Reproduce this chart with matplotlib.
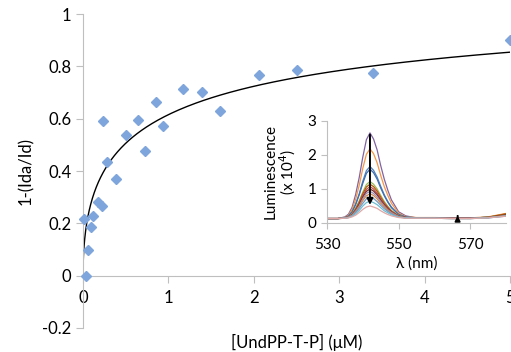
import matplotlib
matplotlib.use("Agg")
import matplotlib.pyplot as plt
import numpy as np

plt.rcParams['font.family'] = ['Lato', 'DejaVu Sans']

# titration points
conc = [0.01, 0.03, 0.06, 0.09, 0.12, 0.17, 0.22, 0.24, 0.28, 0.39, 0.50,
        0.64, 0.72, 0.86, 0.94, 1.17, 1.39, 1.60, 2.06, 2.51, 3.40, 5.00]
quench = [0.218, 0.0, 0.098, 0.186, 0.227, 0.282, 0.265, 0.59, 0.436, 0.37, 0.537,
          0.594, 0.477, 0.663, 0.571, 0.713, 0.701, 0.631, 0.766, 0.785, 0.775, 0.90]

# fitted binding curve parameters (Hill)
fit_bmax, fit_k, fit_n = 1.2, 0.908, 0.53

# inset emission spectra (x 10^4)
wl = [530, 533, 535, 536, 537, 538, 539, 540, 541, 542, 543, 544, 545, 546, 547,
      548, 550, 552, 555, 560, 565, 570, 575, 580]
spectra = [
    [0.13, 0.13, 0.18, 0.26, 0.46, 0.84, 1.34, 1.94, 2.45, 2.65, 2.47, 2.15, 1.69, 1.29, 0.96, 0.68, 0.33, 0.21, 0.15, 0.15, 0.14, 0.14, 0.17, 0.24],
    [0.13, 0.13, 0.17, 0.23, 0.40, 0.70, 1.11, 1.61, 2.02, 2.18, 2.04, 1.77, 1.40, 1.07, 0.81, 0.58, 0.29, 0.19, 0.16, 0.16, 0.15, 0.15, 0.18, 0.28],
    [0.13, 0.13, 0.16, 0.21, 0.33, 0.56, 0.86, 1.23, 1.54, 1.66, 1.55, 1.35, 1.08, 0.83, 0.63, 0.47, 0.25, 0.18, 0.15, 0.15, 0.14, 0.14, 0.17, 0.25],
    [0.13, 0.13, 0.16, 0.20, 0.32, 0.54, 0.83, 1.17, 1.46, 1.58, 1.48, 1.29, 1.03, 0.80, 0.61, 0.45, 0.25, 0.17, 0.15, 0.15, 0.14, 0.14, 0.17, 0.23],
    [0.13, 0.13, 0.15, 0.18, 0.27, 0.44, 0.65, 0.91, 1.13, 1.22, 1.14, 1.00, 0.81, 0.63, 0.49, 0.37, 0.22, 0.16, 0.15, 0.15, 0.14, 0.14, 0.17, 0.26],
    [0.13, 0.13, 0.15, 0.18, 0.26, 0.41, 0.61, 0.86, 1.06, 1.14, 1.07, 0.94, 0.76, 0.59, 0.46, 0.35, 0.21, 0.16, 0.15, 0.15, 0.14, 0.14, 0.17, 0.27],
    [0.13, 0.13, 0.15, 0.18, 0.25, 0.39, 0.58, 0.81, 0.99, 1.07, 1.00, 0.88, 0.71, 0.56, 0.44, 0.34, 0.21, 0.16, 0.15, 0.15, 0.14, 0.14, 0.16, 0.22],
    [0.13, 0.13, 0.15, 0.17, 0.24, 0.37, 0.55, 0.76, 0.93, 1.00, 0.94, 0.83, 0.67, 0.53, 0.42, 0.32, 0.20, 0.16, 0.15, 0.15, 0.14, 0.14, 0.16, 0.24],
    [0.13, 0.13, 0.15, 0.17, 0.23, 0.35, 0.51, 0.71, 0.87, 0.93, 0.87, 0.77, 0.63, 0.50, 0.39, 0.31, 0.19, 0.15, 0.15, 0.14, 0.14, 0.14, 0.16, 0.21],
    [0.13, 0.13, 0.14, 0.17, 0.22, 0.33, 0.48, 0.66, 0.80, 0.86, 0.81, 0.71, 0.58, 0.47, 0.37, 0.29, 0.19, 0.15, 0.14, 0.14, 0.13, 0.13, 0.16, 0.22],
    [0.13, 0.13, 0.14, 0.16, 0.21, 0.31, 0.43, 0.58, 0.71, 0.76, 0.72, 0.63, 0.52, 0.42, 0.34, 0.27, 0.18, 0.15, 0.14, 0.14, 0.13, 0.13, 0.15, 0.20],
    [0.13, 0.13, 0.14, 0.16, 0.20, 0.27, 0.37, 0.50, 0.60, 0.64, 0.60, 0.54, 0.45, 0.36, 0.30, 0.24, 0.17, 0.15, 0.14, 0.14, 0.13, 0.13, 0.15, 0.21],
    [0.13, 0.13, 0.14, 0.15, 0.18, 0.23, 0.31, 0.40, 0.47, 0.50, 0.47, 0.43, 0.36, 0.30, 0.25, 0.21, 0.16, 0.14, 0.14, 0.14, 0.13, 0.13, 0.15, 0.20],
]
spec_colors = ["#8064A2", "#F79646", "#4F81BD", "#3F6FAE", "#9BBB59", "#B65708",
               "#C0504D", "#772C2A", "#A08EB5", "#D08A4E", "#729ACA", "#6FBDD1", "#E0A8A6"]

GRAY = "#BFBFBF"

fig = plt.figure(figsize=(5.11, 3.52), dpi=100)
ax = fig.add_axes([0.1624, 0.0682, 0.836, 0.892])

xs = np.concatenate([[0.0], np.geomspace(1e-5, 5, 800)])
ys = fit_bmax * xs**fit_n / (fit_k**fit_n + xs**fit_n)
ax.plot(xs, ys, color="black", lw=1.0, zorder=2)
ax.plot(conc, quench, linestyle="none", marker="D", markersize=5.2,
        color="#7FA6DC", markeredgecolor="#7FA6DC", clip_on=False, zorder=3)

ax.set_xlim(0, 5)
ax.set_ylim(-0.2, 1.0)
ax.set_xticks([0, 1, 2, 3, 4, 5])
ax.set_yticks([-0.2, 0, 0.2, 0.4, 0.6, 0.8, 1.0])
ax.set_yticklabels(["-0.2", "0", "0.2", "0.4", "0.6", "0.8", "1"])
for s in ["top", "right"]:
    ax.spines[s].set_visible(False)
ax.spines["bottom"].set_position(("data", 0))
ax.spines["left"].set_color(GRAY)
ax.spines["bottom"].set_color(GRAY)
ax.tick_params(axis="both", colors=GRAY, labelcolor="black", labelsize=12, length=5, direction="out")
ax.tick_params(axis="x", pad=5)
ax.set_ylabel("1-(Ida/Id)", fontsize=12, labelpad=6)
ax.set_xlabel("[UndPP-T-P] (\u03bcM)", fontsize=12)
ax.xaxis.set_label_coords(0.5, -0.018)

# inset
ins = fig.add_axes([0.640, 0.3665, 0.350, 0.2898])
ins.patch.set_alpha(0)
for vals, c in zip(spectra, spec_colors):
    ins.plot(wl, vals, color=c, lw=0.9)
ins.set_xlim(530, 580)
ins.set_ylim(0, 3)
ins.set_xticks([530, 550, 570])
ins.set_yticks([0, 1, 2, 3])
for s in ["top", "right"]:
    ins.spines[s].set_visible(False)
ins.spines["left"].set_color(GRAY)
ins.spines["bottom"].set_color(GRAY)
ins.tick_params(axis="both", colors=GRAY, labelcolor="black", labelsize=11, length=4, direction="out")
ins.tick_params(axis="x", pad=7)
ins.set_xlabel("\u03bb (nm)", fontsize=11, labelpad=3)
ins.set_ylabel("Luminescence\n(x 10$^4$)", fontsize=11, labelpad=7, linespacing=1.0)
ins.annotate("", xy=(542, 0.45), xytext=(542, 2.68),
             arrowprops=dict(arrowstyle="-|>", color="black", lw=1.4, mutation_scale=9))
ins.annotate("", xy=(566.5, 0.30), xytext=(566.5, 0.12),
             arrowprops=dict(arrowstyle="-|>", color="black", lw=1.2, mutation_scale=8))

fig.savefig("out.png", dpi=100, facecolor="white")
